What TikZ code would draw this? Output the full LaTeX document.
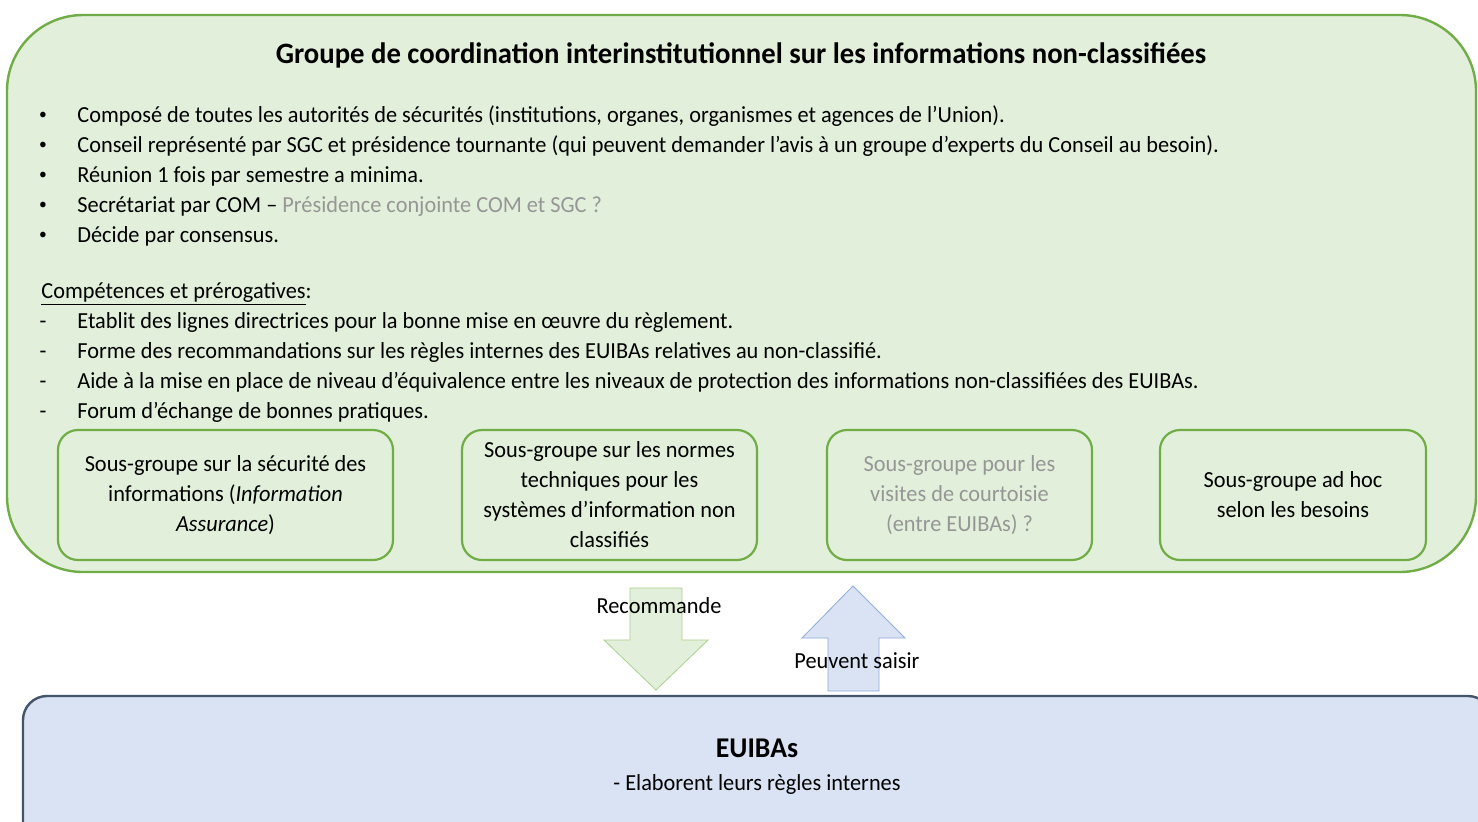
\documentclass[tikz,border=0pt]{standalone}
\usepackage{fontspec}
\setmainfont{Carlito}[FakeStretch=0.97]
\usetikzlibrary{positioning}
\definecolor{vertclair}{RGB}{226,239,218}
\definecolor{vertbord}{RGB}{112,173,71}
\definecolor{vertfleche}{RGB}{169,209,142}
\definecolor{bleuclair}{RGB}{218,227,243}
\definecolor{bleubord}{RGB}{68,84,106}
\definecolor{bleufleche}{RGB}{143,170,220}
\definecolor{gristxt}{RGB}{150,150,150}
\tikzset{ligne/.style={anchor=base west, inner sep=0pt, font=\fontsize{11.5}{15}\selectfont},
  puce/.style={anchor=base, inner sep=0pt, font=\fontsize{11.5}{15}\selectfont},
  sousgroupe/.style={draw=vertbord, line width=1.1pt, fill=vertclair, rounded corners=10pt, minimum height=65pt, align=center, font=\fontsize{11.5}{15}\selectfont},
  etiquette/.style={inner sep=1pt, font=\fontsize{11.5}{15}\selectfont}}

\begin{document}
\begin{tikzpicture}[x=0.5pt, y=-0.5pt]
    \clip (0,0) rectangle (1478,821);
    \fill[white] (0,0) rectangle (1478,821);
    % groupe de coordination
    \draw[vertbord, fill=vertclair, line width=1.2pt, rounded corners=38pt] (7,15) rectangle (1476,572);
    \node[font=\fontsize{14.8}{17}\selectfont\bfseries] (titre) at (741,55) {Groupe de coordination interinstitutionnel sur les informations non-classifiées};
    \foreach \t [count=\i] in {{Composé de toutes les autorités de sécurités (institutions, organes, organismes et agences de l’Union).},
        {Conseil représenté par SGC et présidence tournante (qui peuvent demander l’avis à un groupe d’experts du Conseil au besoin).},
        {Réunion 1 fois par semestre a minima.},
        {Secrétariat par COM -- \textcolor{gristxt}{Présidence conjointe COM et SGC ?}},
        {Décide par consensus.}} {
        \node[puce] (p\i) at (43,92+30*\i) {\fontsize{8}{10}\selectfont\raisebox{1.5pt}{\textbullet}};
        \node[ligne] (b\i) at (77,92+30*\i) {\t};
    }
    \node[ligne] (comp) at (41,298) {\underline{Compétences et prérogatives}:};
    \foreach \t [count=\i] in {{Etablit des lignes directrices pour la bonne mise en œuvre du règlement.},
        {Forme des recommandations sur les règles internes des EUIBAs relatives au non-classifié.},
        {Aide à la mise en place de niveau d’équivalence entre les niveaux de protection des informations non-classifiées des EUIBAs.},
        {Forum d’échange de bonnes pratiques.}} {
        \node[puce] (t\i) at (43,298+30*\i) {-};
        \node[ligne] (c\i) at (77,298+30*\i) {\t};
    }
    % sous-groupes
    \node[sousgroupe, minimum width=167.5pt] (sg1) at (225.5,495) {Sous-groupe sur la sécurité des\\informations (\textit{Information}\\\textit{Assurance})};
    \node[sousgroupe, minimum width=147.5pt] (sg2) at (609.5,495) {Sous-groupe sur les normes\\techniques pour les\\systèmes d’information non\\classifiés};
    \node[sousgroupe, minimum width=132.5pt, text=gristxt] (sg3) at (959.5,495) {Sous-groupe pour les\\visites de courtoisie\\(entre EUIBAs) ?};
    \node[sousgroupe, minimum width=133pt] (sg4) at (1293,495) {Sous-groupe ad hoc\\selon les besoins};
    % EUIBAs
    \draw[bleubord, fill=bleuclair, line width=1.2pt, rounded corners=12pt] (23,696) rectangle (1492,860);
    \node[font=\fontsize{14.3}{17}\selectfont\bfseries] (eu) at (757,748) {EUIBAs};
    \node[etiquette, below=4pt of eu] (regles) {- Elaborent leurs règles internes};
    % fleches
    \draw[vertfleche, fill=vertclair] (630,588) -- (682,588) -- (682,640) -- (708,640) -- (656,690) -- (604,640) -- (630,640) -- cycle;
    \draw[bleufleche, fill=bleuclair] (828,691) -- (879,691) -- (879,638) -- (905,638) -- (853,586) -- (802,638) -- (828,638) -- cycle;
    \node[etiquette] (recom) at (659,606) {Recommande};
    \node[etiquette] (saisir) at (857,661) {Peuvent saisir};
\end{tikzpicture}
\end{document}
